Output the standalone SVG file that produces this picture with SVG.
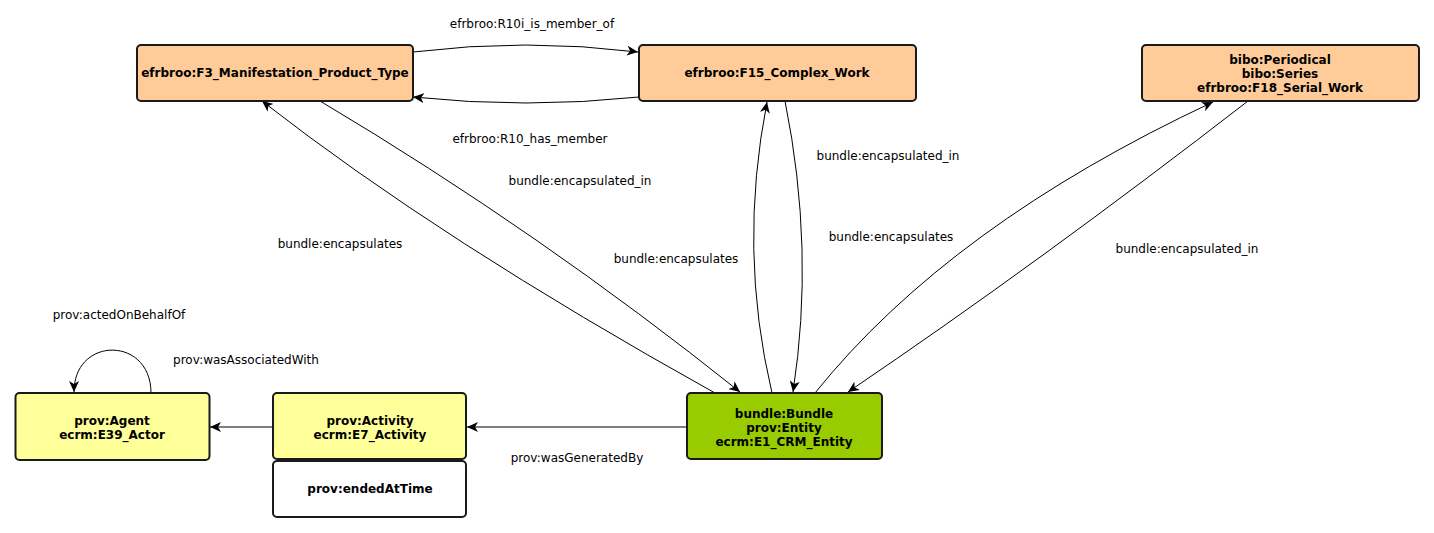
<svg xmlns="http://www.w3.org/2000/svg" width="1434" height="533" viewBox="0 0 1434 533">
<style>
.n{stroke:#1a1a1a;stroke-width:2}
.o{fill:#ffcc99}
.y{fill:#ffff99}
.g{fill:#99cc00}
.w{fill:#ffffff}
.t{font-family:"DejaVu Sans",sans-serif;font-size:12px;font-weight:bold;fill:#000;text-anchor:middle}
.l{font-family:"DejaVu Sans",sans-serif;font-size:12px;fill:#000;text-anchor:middle}
.e{fill:none;stroke:#000;stroke-width:1;marker-end:url(#a)}
</style>
<defs>
<marker id="a" markerUnits="userSpaceOnUse" markerWidth="12" markerHeight="10" refX="11" refY="5" orient="auto" viewBox="0 0 12 10">
<path d="M0,0 L11,5 L0,10 L3,5 z" fill="#000"/>
</marker>
</defs>
<rect width="1434" height="533" fill="#fff"/>
<g id="connectors">
<path class="e" d="M413,52 Q526,38 638,52"/>
<path class="e" d="M639,97 Q526,109 413,97"/>
<path class="e" d="M715,393 Q440,240 262,101"/>
<path class="e" d="M320,101 Q540,232 740,392"/>
<path class="e" d="M772,393 Q738,250 767,102"/>
<path class="e" d="M785,101 Q815,250 793,392"/>
<path class="e" d="M815,393 Q950,225 1213,102"/>
<path class="e" d="M1248,101 Q1040,262 848,392"/>
<path class="e" d="M687,427 L467,427"/>
<path class="e" d="M273,427 L210,427"/>
<path class="e" d="M151,393 C151,336 74,336 74,392"/>
<text class="l" x="532" y="28">efrbroo:R10i_is_member_of</text>
<text class="l" x="530" y="143">efrbroo:R10_has_member</text>
<text class="l" x="580" y="185">bundle:encapsulated_in</text>
<text class="l" x="340" y="248">bundle:encapsulates</text>
<text class="l" x="676" y="263">bundle:encapsulates</text>
<text class="l" x="888" y="160">bundle:encapsulated_in</text>
<text class="l" x="891" y="241">bundle:encapsulates</text>
<text class="l" x="1187" y="253">bundle:encapsulated_in</text>
<text class="l" x="119" y="319">prov:actedOnBehalfOf</text>
<text class="l" x="246" y="364">prov:wasAssociatedWith</text>
<text class="l" x="577" y="462">prov:wasGeneratedBy</text>
</g>
<g id="F3">
<rect class="n o" x="137" y="45" width="276" height="56" rx="4"/>
<text class="t" x="275" y="77">efrbroo:F3_Manifestation_Product_Type</text>
</g>
<g id="F15">
<rect class="n o" x="639" y="45" width="277" height="56" rx="4"/>
<text class="t" x="777" y="77">efrbroo:F15_Complex_Work</text>
</g>
<g id="Periodical">
<rect class="n o" x="1142" y="45" width="277" height="56" rx="4"/>
<text class="t" x="1280" y="64">bibo:Periodical</text>
<text class="t" x="1280" y="78">bibo:Series</text>
<text class="t" x="1280" y="92">efrbroo:F18_Serial_Work</text>
</g>
<g id="Agent">
<rect class="n y" x="15.5" y="393" width="194" height="67" rx="4"/>
<text class="t" x="112" y="425">prov:Agent</text>
<text class="t" x="112" y="439">ecrm:E39_Actor</text>
</g>
<g id="Activity">
<rect class="n y" x="273" y="393" width="193" height="66" rx="4"/>
<text class="t" x="370" y="425">prov:Activity</text>
<text class="t" x="370" y="439">ecrm:E7_Activity</text>
<rect class="n w" x="273" y="461" width="193" height="56" rx="4"/>
<text class="t" x="370" y="493">prov:endedAtTime</text>
</g>
<g id="Bundle">
<rect class="n g" x="687" y="393" width="195" height="66" rx="4"/>
<text class="t" x="784" y="418">bundle:Bundle</text>
<text class="t" x="784" y="432">prov:Entity</text>
<text class="t" x="784" y="446">ecrm:E1_CRM_Entity</text>
</g>
</svg>
